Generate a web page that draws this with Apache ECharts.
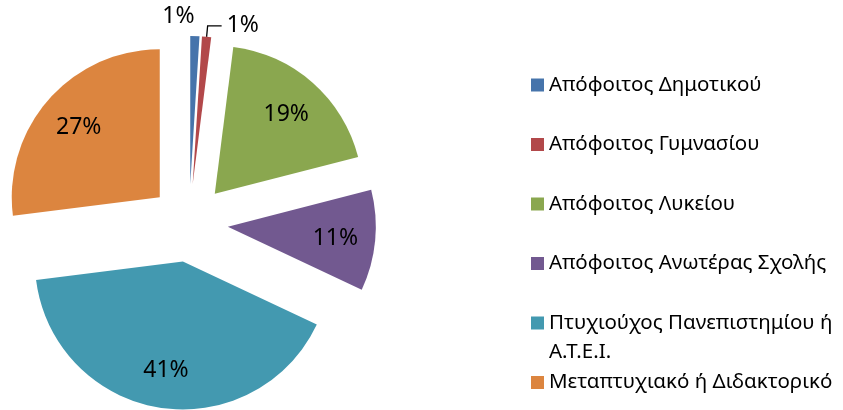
<!DOCTYPE html>
<html>
<head>
<meta charset="utf-8">
<script src="https://cdn.jsdelivr.net/npm/echarts@6/dist/echarts.min.js"></script>
<style>
  html, body { margin: 0; padding: 0; background: #ffffff; }
  #chart { width: 843px; height: 410px; }
</style>
</head>
<body>
<div id="chart"></div>
<script>
// Education level of respondents (percent)
const categories = [
  'Απόφοιτος Δημοτικού',
  'Απόφοιτος Γυμνασίου',
  'Απόφοιτος Λυκείου',
  'Απόφοιτος Ανωτέρας Σχολής',
  'Πτυχιούχος Πανεπιστημίου ή\nΑ.Τ.Ε.Ι.',
  'Μεταπτυχιακό ή Διδακτορικό'
];
const shares = [1, 1, 19, 11, 41, 27];
const colors = ['#4674AB', '#B2484A', '#8AA74F', '#725990', '#4399B0', '#DC853F'];

const FONT = 'Noto Sans';
const CENTER = [189, 223];
const RADIUS = 148;
const EXPLODE = 39;
const LABEL_PUSH = 31;     // extra radial distance for the inside labels
const LABEL_DROP = 2;      // small downward nudge for glyph centring
const LINE_H = 29;         // legend line height
const isThin = v => v < 5;

const chart = echarts.init(document.getElementById('chart'), null, { renderer: 'canvas' });

// Every legend entry is three lines tall: single-line entries get a blank
// line of padding above and below, the two-line entry gets a blank line on
// top, so the first text line always sits on the colour square.
const isWrapped = name => name.indexOf('\n') >= 0;
const legendData = categories.map(name => ({
  name: name,
  textStyle: { padding: isWrapped(name) ? 0 : [LINE_H, 0, LINE_H, 0] }
}));

chart.setOption({
  animation: false,
  backgroundColor: '#ffffff',
  legend: {
    orient: 'vertical',
    left: 531,
    top: 41.5,
    height: 400,
    padding: 0,
    itemWidth: 13,
    itemHeight: 13,
    itemGap: -27.5,
    icon: 'rect',
    selectedMode: false,
    data: legendData,
    formatter: name => (isWrapped(name) ? '\n' + name : name),
    textStyle: {
      fontFamily: FONT,
      fontSize: 20.5,
      color: '#000000',
      lineHeight: LINE_H
    }
  },
  series: [
    {
      type: 'pie',
      center: CENTER,
      radius: RADIUS,
      startAngle: 90,
      clockwise: true,
      selectedMode: 'multiple',
      selectedOffset: EXPLODE,
      avoidLabelOverlap: false,
      silent: true,
      label: {
        show: true,
        formatter: '{c}%',
        fontFamily: FONT,
        fontSize: 23,
        color: '#000000'
      },
      labelLine: {
        show: true,
        length: 11,
        length2: 14,
        smooth: false,
        lineStyle: { color: '#000000', width: 1.3 }
      },
      data: categories.map((name, i) => {
        const thin = isThin(shares[i]);
        const item = {
          name: name,
          value: shares[i],
          selected: true,
          itemStyle: { color: colors[i] },
          label: { position: thin ? 'outside' : 'inside' },
          labelLine: { show: thin }
        };
        if (i === 0) {
          // first thin slice: label sits straight above, no visible leader
          item.labelLine = { show: true, length: 20, length2: 0, lineStyle: { color: 'rgba(0,0,0,0)' } };
        }
        return item;
      }),
      labelLayout: function (p) {
        const i = p.dataIndex;
        if (isThin(shares[i])) {
          return i === 0 ? { align: 'right', dx: -6, hideOverlap: false } : { hideOverlap: false };
        }
        // push inside labels further out along the slice bisector
        const lx = p.labelRect.x + p.labelRect.width / 2 - CENTER[0];
        const ly = p.labelRect.y + p.labelRect.height / 2 - CENTER[1];
        const len = Math.sqrt(lx * lx + ly * ly) || 1;
        return {
          dx: lx / len * LABEL_PUSH,
          dy: ly / len * LABEL_PUSH + LABEL_DROP,
          hideOverlap: false
        };
      }
    }
  ]
});
</script>
</body>
</html>
